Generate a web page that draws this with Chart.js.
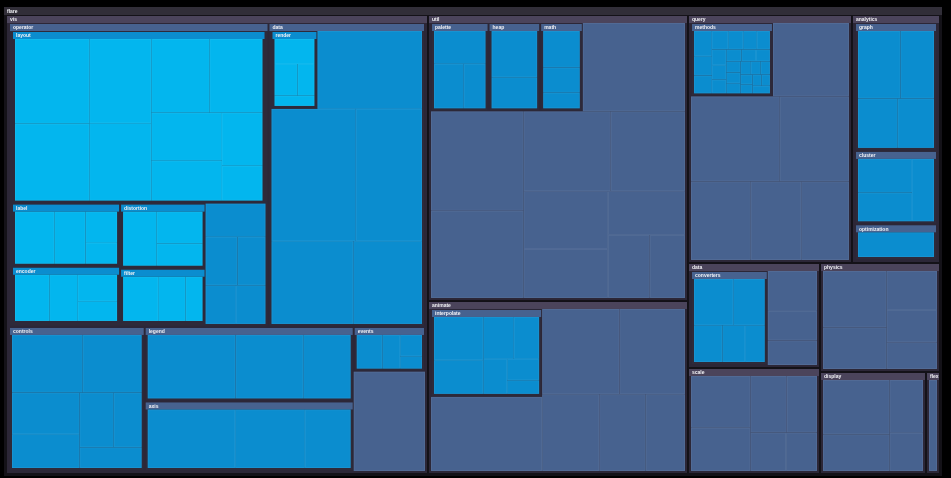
<!DOCTYPE html>
<html>
<head>
<meta charset="utf-8">
<script src="https://cdn.jsdelivr.net/npm/chart.js@4.4.1/dist/chart.umd.min.js"></script>
<style>
html,body{margin:0;padding:0;background:#000;}
#wrap{width:951px;height:478px;}
</style>
</head>
<body>
<div id="wrap"><canvas id="c" width="951" height="478"></canvas></div>
<script>
// ---- leaf sizes (area units) per package ----
const layoutSizes = [7600, 6900, 6300, 5800, 5200, 4700, 4100, 3400, 2600, 1706];
const labelSizes = [2900, 2300, 1400, 932];
const encoderSizes = [2300, 1900, 1500, 1126];
const distortionSizes = [2600, 2100, 1443];
const filterSizes = [2300, 1800, 1113];
const operatorSizes = [2200, 1700, 1500, 1300, 1262];
const renderSizes = [1500, 1100, 800, 614];
const visDataSizes = [9138, 12500, 9800, 7600, 6391];
const controlsSizes = [4800, 4000, 3300, 2700, 2200, 1800, 1514];
const legendSizes = [7000, 5400, 3783];
const axisSizes = [6500, 5200, 3404];
const eventsSizes = [1300, 900, 700, 413];
const visSizes = [7363];
const paletteSizes = [2300, 1800, 1313];
const heapSizes = [2900, 1953];
const mathSizes = [1900, 1300, 813];
const utilSizes = [9612, 9800, 8600, 7400, 6300, 5200, 4400, 3600, 2800, 2367];
const interpolateSizes = [2800, 2200, 1700, 1400, 1100, 900, 580];
const animateSizes = [9000, 7200, 6100, 4800, 3900, 3302];
const methodsSizes = [620, 480, 440, 410, 380, 350, 330, 310, 290, 270, 250, 240, 230, 220, 210, 200, 190, 180, 170, 160, 150, 140, 130, 183];
const querySizes = [6061, 8200, 6400, 5100, 4300, 4078];
const graphSizes = [3800, 3000, 2600, 2379];
const clusterSizes = [2600, 2200, 1957];
const optimizationSizes = [3287];
const convertersSizes = [2600, 2100, 1500, 1200, 1046];
const dataSizes = [2300, 1700, 1414];
const scaleSizes = [3600, 3000, 2400, 2000, 1600, 1392];
const physicsSizes = [4200, 3100, 2300, 1900, 1580];
const displaySizes = [4300, 2900, 2100, 1512];
const flexSizes = [1428];

// row grouping of children (leading rows), the rest is squarified
const rowGroups = {
  'flare': [1, 2, 2, 2, 1, 1, 1],
  'flare/vis': [2, 1, 2, 1, 1],
  'flare/vis/operator': [1, 2, 2],
  'flare/vis/data': [2],
  'flare/util': [4],
  'flare/animate': [2],
  'flare/query': [2],
  'flare/analytics': [1, 1, 1],
  'flare/data': [1]
};

const depthColors = ['#312e38', '#4b445b', '#47628f', '#0b8dcf', '#03b6ee'];
const bodyColors = ['#141218', '#2c2737', '#2e2a3a', '#2e2a3a', '#2e2a3a'];

// ---- build hierarchy ----
function leaves(arr) { return arr.map(v => ({ value: v })); }
function pkg(name, children) { return { name, children }; }

const tree = pkg('flare', [
  pkg('vis', [
    pkg('operator', [
      pkg('layout', leaves(layoutSizes)),
      pkg('label', leaves(labelSizes)),
      pkg('encoder', leaves(encoderSizes)),
      pkg('distortion', leaves(distortionSizes)),
      pkg('filter', leaves(filterSizes)),
      ...leaves(operatorSizes)
    ]),
    pkg('data', [pkg('render', leaves(renderSizes)), ...leaves(visDataSizes)]),
    pkg('controls', leaves(controlsSizes)),
    pkg('legend', leaves(legendSizes)),
    pkg('axis', leaves(axisSizes)),
    pkg('events', leaves(eventsSizes)),
    ...leaves(visSizes)
  ]),
  pkg('util', [
    pkg('palette', leaves(paletteSizes)),
    pkg('heap', leaves(heapSizes)),
    pkg('math', leaves(mathSizes)),
    ...leaves(utilSizes)
  ]),
  pkg('animate', [pkg('interpolate', leaves(interpolateSizes)), ...leaves(animateSizes)]),
  pkg('query', [pkg('methods', leaves(methodsSizes)), ...leaves(querySizes)]),
  pkg('analytics', [
    pkg('graph', leaves(graphSizes)),
    pkg('cluster', leaves(clusterSizes)),
    pkg('optimization', leaves(optimizationSizes))
  ]),
  pkg('data', [pkg('converters', leaves(convertersSizes)), ...leaves(dataSizes)]),
  pkg('scale', leaves(scaleSizes)),
  pkg('physics', leaves(physicsSizes)),
  pkg('display', leaves(displaySizes)),
  pkg('flex', leaves(flexSizes))
]);

function sumUp(n, path) {
  if (n.children) {
    n.path = path ? path + '/' + n.name : n.name;
    n.value = n.children.reduce((s, c) => s + sumUp(c, n.path), 0);
  }
  return n.value;
}
sumUp(tree, '');

// ---- layout ----
function placeRow(row, rect, scale, out) {
  const sum = row.reduce((s, n) => s + n.value, 0);
  if (rect.w <= rect.h) {
    const t = sum * scale / rect.w;
    let cx = rect.x;
    row.forEach(n => { const iw = n.value * scale / t; out.push({ n, x: cx, y: rect.y, w: iw, h: t }); cx += iw; });
    rect.y += t; rect.h -= t;
  } else {
    const t = sum * scale / rect.h;
    let cy = rect.y;
    row.forEach(n => { const ih = n.value * scale / t; out.push({ n, x: rect.x, y: cy, w: t, h: ih }); cy += ih; });
    rect.x += t; rect.w -= t;
  }
}
function worst(row, sum, side, scale) {
  const t = sum * scale / side;
  let m = 0;
  row.forEach(n => { const l = n.value * scale / t; m = Math.max(m, l / t, t / l); });
  return m;
}
function layoutChildren(node, rect) {
  const items = node.children;
  const total = node.value;
  const scale = rect.w * rect.h / total;
  const r = { ...rect };
  const out = [];
  let i = 0;
  (rowGroups[node.path] || []).forEach(cnt => { placeRow(items.slice(i, i + cnt), r, scale, out); i += cnt; });
  while (i < items.length) {
    const side = Math.min(r.w, r.h);
    let row = [items[i]], sum = items[i].value, best = worst(row, sum, side, scale), j = i + 1;
    while (j < items.length) {
      const r2 = row.concat(items[j]), s2 = sum + items[j].value, w2 = worst(r2, s2, side, scale);
      if (w2 > best) break;
      row = r2; sum = s2; best = w2; j++;
    }
    placeRow(row, r, scale, out);
    i = j;
  }
  return out;
}

function drawNode(ctx, node, rect, depth) {
  if (!node.children) {
    ctx.fillStyle = depthColors[depth];
    ctx.fillRect(rect.x, rect.y, rect.w, rect.h);
    ctx.strokeStyle = 'rgba(255,255,255,0.055)';
    ctx.lineWidth = 1;
    ctx.strokeRect(rect.x + 0.5, rect.y + 0.5, Math.max(0, rect.w - 1), Math.max(0, rect.h - 1));
    return;
  }
  const H = depth === 0 ? 8 : 7, pad = 2;
  ctx.fillStyle = bodyColors[depth];
  ctx.fillRect(rect.x, rect.y, rect.w, rect.h);
  ctx.fillStyle = depthColors[depth];
  ctx.fillRect(rect.x, rect.y, rect.w, H);
  ctx.save();
  ctx.beginPath(); ctx.rect(rect.x, rect.y, rect.w, H); ctx.clip();
  ctx.fillStyle = '#f2f2f6';
  ctx.font = 'bold 5px "Liberation Sans", Arial, sans-serif';
  ctx.textBaseline = 'middle';
  ctx.fillText(node.name, rect.x + 3, rect.y + H / 2 + 0.5);
  ctx.restore();
  const inner = { x: rect.x + pad, y: rect.y + H, w: rect.w - 2 * pad, h: rect.h - H - pad };
  layoutChildren(node, inner).forEach(c => {
    const g = c.n.children ? 1 : 0;
    drawNode(ctx, c.n, { x: c.x + g, y: c.y + g, w: c.w - 2 * g, h: c.h - 2 * g }, depth + 1);
  });
}

const treemapPlugin = {
  id: 'treemap',
  beforeDraw(chart) {
    const ctx = chart.ctx;
    ctx.save();
    ctx.fillStyle = '#000';
    ctx.fillRect(0, 0, chart.width, chart.height);
    ctx.restore();
  },
  afterDatasetsDraw(chart) {
    const xs = chart.scales.x, ys = chart.scales.y;
    const left = xs.getPixelForValue(xs.min), right = xs.getPixelForValue(xs.max);
    const top = ys.getPixelForValue(ys.max), bottom = ys.getPixelForValue(ys.min);
    const ctx = chart.ctx;
    ctx.save();
    drawNode(ctx, tree, { x: left, y: top, w: right - left, h: bottom - top }, 0);
    ctx.restore();
  }
};

new Chart(document.getElementById('c'), {
  type: 'scatter',
  data: { datasets: [{ data: [] }] },
  options: {
    responsive: false,
    animation: false,
    layout: { padding: { left: 4, right: 9, top: 7, bottom: 2 } },
    scales: {
      x: { type: 'linear', min: 0, max: 1, display: false },
      y: { type: 'linear', min: 0, max: 1, display: false }
    },
    plugins: { legend: { display: false }, tooltip: { enabled: false } }
  },
  plugins: [treemapPlugin]
});
</script>
</body>
</html>
